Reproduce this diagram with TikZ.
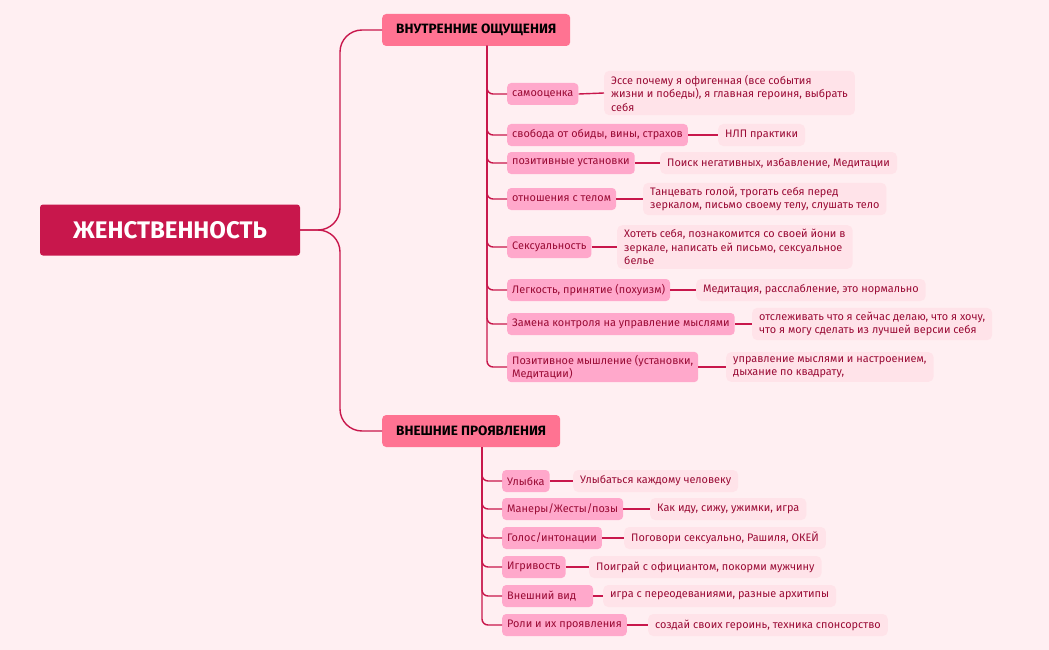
\documentclass[tikz,border=0pt]{standalone}
\usepackage{fontspec}
\setmainfont{Fira Sans}
\begin{document}
\begin{tikzpicture}[x=1pt,y=-1pt,
  every node/.style={font=\fontsize{10.9}{13.5}\selectfont,inner sep=0pt},
  ln/.style={draw=lc,line width=1.4pt},
  root/.style={fill=rootc,text=white,rounded corners=3pt,minimum width=260pt,minimum height=51pt,font=\fontsize{24}{28}\selectfont\bfseries},
  lone/.style={fill=l1c,text=black,rounded corners=4pt,minimum height=32pt,inner xsep=14pt,anchor=west,font=\fontsize{13.5}{16}\selectfont\bfseries},
  ltwo/.style={fill=l2c,text=tc,rounded corners=4pt,minimum height=22pt,inner xsep=5pt,inner ysep=3pt,anchor=west,align=left},
  leaf/.style={fill=l3c,text=tc,rounded corners=5pt,minimum height=22pt,inner xsep=7pt,inner ysep=4pt,anchor=west,align=left}]
\definecolor{bg}{HTML}{FFEFF2}
\definecolor{lc}{HTML}{C8174C}
\definecolor{rootc}{HTML}{C8174C}
\definecolor{l1c}{HTML}{FF7392}
\definecolor{l2c}{HTML}{FFA8CB}
\definecolor{l3c}{HTML}{FFE3E9}
\definecolor{tc}{HTML}{9A0B35}
\fill[bg] (0,0) rectangle (1049,650);
\useasboundingbox (0,0) rectangle (1049,650);
\node[root] (root) at (170,230) {ЖЕНСТВЕННОСТЬ};
\node[lone] (in) at (382,30) {ВНУТРЕННИЕ ОЩУЩЕНИЯ};
\node[lone] (out) at (382,431) {ВНЕШНИЕ ПРОЯВЛЕНИЯ};
\draw[ln,rounded corners=22pt] (root.east) -- (340,230) -- (340,30) -- (in.west);
\draw[ln,rounded corners=22pt] (root.east) -- (340,230) -- (340,431) -- (out.west);
% group 1
\coordinate (v1) at (487,46);
\node[ltwo] (a1) at (507,94) {самооценка};
\node[ltwo] (a2) at (507,135) {свобода от обиды, вины, страхов};
\node[ltwo] (a3) at (507,163) {позитивные установки};
\node[ltwo] (a4) at (507,199) {отношения с телом};
\node[ltwo] (a5) at (507,247) {Сексуальность};
\node[ltwo] (a6) at (507,290) {Легкость, принятие (похуизм)};
\node[ltwo] (a7) at (507,324) {Замена контроля на управление мыслями};
\node[ltwo] (a8) at (507,367) {Позитивное мышление (установки,\\Медитации)};
\node[leaf] (b1) at (604,93) {Эссе почему я офигенная (все события\\жизни и победы), я главная героиня, выбрать\\себя};
\node[leaf] (b2) at (718,135) {НЛП практики};
\node[leaf] (b3) at (660,163) {Поиск негативных, избавление, Медитации};
\node[leaf] (b4) at (643,199) {Танцевать голой, трогать себя перед\\зеркалом, письмо своему телу, слушать тело};
\node[leaf] (b5) at (617,247) {Хотеть себя, познакомится со своей йони в\\зеркале, написать ей письмо, сексуальное\\белье};
\node[leaf] (b6) at (696,290) {Медитация, расслабление, это нормально};
\node[leaf] (b7) at (752,324) {отслеживать что я сейчас делаю, что я хочу,\\что я могу сделать из лучшей версии себя};
\node[leaf] (b8) at (726,367) {управление мыслями и настроением,\\дыхание по квадрату,};
\foreach \i in {1,...,8}{
  \draw[ln,rounded corners=6pt] (v1) |- (a\i.west);
  \draw[ln] (a\i.east) -- (b\i.west);
}
% group 2
\coordinate (v2) at (482,447);
\node[ltwo] (c1) at (502,481) {Улыбка};
\node[ltwo] (c2) at (502,509) {Манеры/Жесты/позы};
\node[ltwo] (c3) at (502,538) {Голос/интонации};
\node[ltwo] (c4) at (502,567) {Игривость};
\node[ltwo] (c5) at (502,596) {Внешний вид\hspace{12pt}};
\node[ltwo] (c6) at (502,625) {Роли и их проявления};
\node[leaf] (d1) at (573,481) {Улыбаться каждому человеку};
\node[leaf] (d2) at (650,509) {Как иду, сижу, ужимки, игра};
\node[leaf] (d3) at (624,538) {Поговори сексуально, Рашиля, ОКЕЙ};
\node[leaf] (d4) at (589,567) {Поиграй с официантом, покорми мужчину};
\node[leaf] (d5) at (603,596) {игра с переодеваниями, разные архитипы};
\node[leaf] (d6) at (648,625) {создай своих героинь, техника спонсорство};
\foreach \i in {1,...,6}{
  \draw[ln,rounded corners=6pt] (v2) |- (c\i.west);
  \draw[ln] (c\i.east) -- (d\i.west);
}
\end{tikzpicture}
\end{document}
